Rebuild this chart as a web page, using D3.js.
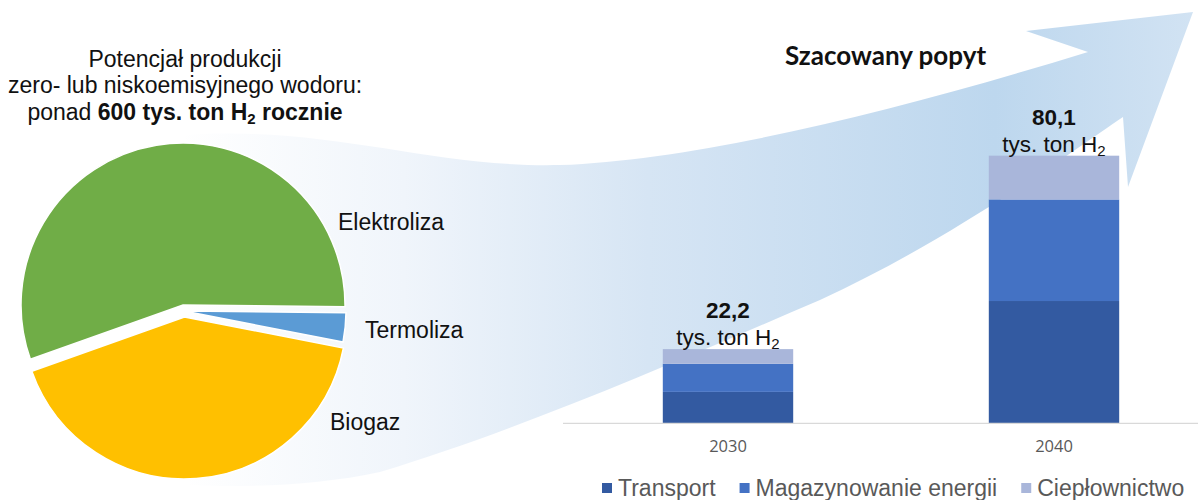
<!DOCTYPE html>
<html>
<head>
<meta charset="utf-8">
<script src="https://cdnjs.cloudflare.com/ajax/libs/d3/7.8.5/d3.min.js"></script>
<style>
  body { margin: 0; background: #fff; }
  svg text { font-family: "Liberation Sans", Arial, sans-serif; }
</style>
</head>
<body>
<div id="chart"></div>
<script>
// pie: share of production potential (%), drawn clockwise from 3 o'clock
var pieLabels = ["Termoliza", "Biogaz", "Elektroliza"];
var pieShares = [2.9, 41.5, 55.6];
var pieColors = ["#5B9BD5", "#FFC000", "#70AD47"];

// bars: estimated demand, tys. ton H2
var years = ["2030", "2040"];
var seriesNames = ["Transport", "Magazynowanie energii", "Ciepłownictwo"];
var transport = [9.4, 36.6];
var storage = [8.4, 30.4];
var heating = [4.4, 13.1];
var totalLabels = ["22,2", "80,1"];
var barColors = ["#335AA1", "#4472C4", "#A9B6DA"];

var svgWidth = 1198;
var svgHeight = 500;

var svg = d3.select("#chart")
  .append("svg")
  .attr("width", svgWidth)
  .attr("height", svgHeight);

// big curved arrow in the background
var defs = svg.append("defs");
var grad = defs.append("linearGradient")
  .attr("id", "arrowGrad")
  .attr("gradientUnits", "userSpaceOnUse")
  .attr("x1", 180).attr("y1", 0)
  .attr("x2", 1198).attr("y2", 0);
[[0, "#ffffff"], [0.22, "#f0f5fb"], [0.46, "#d6e5f4"], [0.8, "#bdd7ee"], [1, "#d2e3f3"]]
  .forEach(function(s) {
    grad.append("stop").attr("offset", s[0]).attr("stop-color", s[1]);
  });

svg.append("path")
  .attr("d", "M185,135 C330,125 430,168 560,165 C700,160 900,110 1088,52" +
             " L1026,31 L1193,12 L1128,187 L1123,117" +
             " C1060,160 950,240 820,300 C680,360 520,430 380,472" +
             " C320,485 250,488 190,485 Z")
  .attr("fill", "url(#arrowGrad)");

// ---- pie ----
var cx = 184, cy = 311, radius = 162;
var deg = Math.PI / 180;
var pie = d3.pie().sort(null)
  .startAngle(90.6 * deg)
  .endAngle(450.6 * deg);
var arc = d3.arc().innerRadius(0).outerRadius(radius);
var explode = [0, 6, 6];

var pieData = pie(pieShares);
var pieGroup = svg.append("g").attr("transform", `translate(${cx}, ${cy})`);
pieGroup.selectAll("path")
  .data(pieData)
  .enter()
  .append("path")
  .attr("d", arc)
  .attr("fill", (d, i) => pieColors[i])
  .attr("stroke", "#fff")
  .attr("stroke-width", 1.5)
  .attr("transform", function(d, i) {
    var a = (d.startAngle + d.endAngle) / 2;
    return `translate(${Math.sin(a) * explode[i]}, ${-Math.cos(a) * explode[i]})`;
  });

// label offsets from pie centre
var labelPos = [[181, 27], [146, 119], [154, -81]];
pieGroup.selectAll(".pieLabel")
  .data(pieLabels)
  .enter()
  .append("text")
  .attr("class", "pieLabel")
  .attr("x", (d, i) => labelPos[i][0])
  .attr("y", (d, i) => labelPos[i][1])
  .attr("font-size", 23)
  .attr("fill", "#111")
  .text(d => d);

// title above the pie
var title = svg.append("g").attr("font-size", 23).attr("fill", "#111").attr("text-anchor", "middle");
title.append("text").attr("x", 185).attr("y", 67).text("Potencjał produkcji");
title.append("text").attr("x", 185).attr("y", 93).text("zero- lub niskoemisyjnego wodoru:");
var t3 = title.append("text").attr("x", 185).attr("y", 120);
t3.append("tspan").text("ponad ");
t3.append("tspan").attr("font-weight", "bold").text("600 tys. ton H");
t3.append("tspan").attr("font-weight", "bold").attr("font-size", 15).attr("dy", 4).text("2");
t3.append("tspan").attr("font-weight", "bold").attr("dy", -4).text(" rocznie");

svg.append("text")
  .attr("x", 785)
  .attr("y", 65)
  .attr("font-size", 26)
  .attr("font-weight", "bold")
  .style("font-family", "Lato, sans-serif")
  .attr("fill", "#111")
  .text("Szacowany popyt");

// ---- stacked bars ----
var table = years.map(function(y, i) {
  return { year: y, "Transport": transport[i], "Magazynowanie energii": storage[i], "Ciepłownictwo": heating[i] };
});
var stacked = d3.stack().keys(seriesNames)(table);

var xBand = d3.scaleBand()
  .domain(years)
  .range([565, 1217])
  .paddingInner(0.6)
  .paddingOuter(0.3);
var baseY = 423.3;
var yLinear = d3.scaleLinear()
  .domain([0, 80])
  .range([baseY, baseY - 80 * 3.341]);

svg.selectAll(".series")
  .data(stacked)
  .enter()
  .append("g")
  .attr("fill", (d, i) => barColors[i])
  .selectAll("rect")
  .data(d => d)
  .enter()
  .append("rect")
  .attr("x", d => xBand(d.data.year))
  .attr("y", d => yLinear(d[1]))
  .attr("width", xBand.bandwidth())
  .attr("height", d => yLinear(d[0]) - yLinear(d[1]));

// axis line + year labels
var xAxis = svg.append("g")
  .attr("transform", `translate(0, ${baseY})`)
  .call(d3.axisBottom(xBand).tickSize(0).tickPadding(17));
xAxis.select(".domain").remove();
xAxis.selectAll("text")
  .attr("font-size", 16.5)
  .style("font-family", "'Open Sans', sans-serif")
  .attr("fill", "#595959");
svg.append("line")
  .attr("x1", 563).attr("x2", 1198)
  .attr("y1", baseY).attr("y2", baseY)
  .attr("stroke", "#d9d9d9")
  .attr("stroke-width", 1.2);

// totals above bars
var totals = years.map((y, i) => ({ year: y, total: transport[i] + storage[i] + heating[i], label: totalLabels[i] }));
var totalGroup = svg.selectAll(".total")
  .data(totals)
  .enter()
  .append("g")
  .attr("class", "total")
  .attr("text-anchor", "middle")
  .attr("fill", "#111")
  .attr("font-size", 22.5);
totalGroup.append("text")
  .attr("x", d => xBand(d.year) + xBand.bandwidth() / 2)
  .attr("y", d => yLinear(d.total) - 31)
  .attr("font-weight", "bold")
  .text(d => d.label);
var unit = totalGroup.append("text")
  .attr("x", d => xBand(d.year) + xBand.bandwidth() / 2)
  .attr("y", d => yLinear(d.total) - 4);
unit.append("tspan").text("tys. ton H");
unit.append("tspan").attr("font-size", 15).attr("dy", 4).text("2");

// legend
var legend = svg.append("g").attr("transform", "translate(602, 496)");
var lx = 0;
seriesNames.forEach(function(name, i) {
  legend.append("rect")
    .attr("x", lx).attr("y", -13)
    .attr("width", 10).attr("height", 10)
    .attr("fill", barColors[i]);
  var t = legend.append("text")
    .attr("x", lx + 16).attr("y", 0)
    .attr("font-size", 23)
    .attr("fill", "#595959")
    .text(name);
  lx += 16 + t.node().getComputedTextLength() + 24;
});
</script>
</body>
</html>
